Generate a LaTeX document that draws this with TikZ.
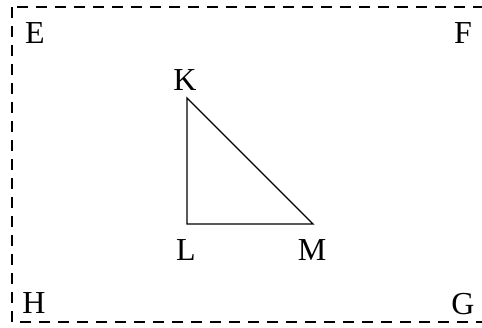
\documentclass[tikz,border=0pt]{standalone}
\usepackage{fontspec}
\setmainfont{Liberation Serif}
\usetikzlibrary{positioning}

\begin{document}
\begin{tikzpicture}[x=0.5pt,y=-0.5pt,font=\fontsize{16}{19}\selectfont,
    frame/.style={dashed, dash pattern=on 5.5pt off 4pt, line width=0.6pt},
    side/.style={line width=0.7pt},
    lbl/.style={inner sep=0pt, text height=10.6pt, text depth=0pt}]

    % --- Canvas ---
    \useasboundingbox (0,0) rectangle (482,327);
    \fill[white] (0,0) rectangle (482,327);

    % --- Dashed frame ---
    \coordinate (TopLeft) at (12,7);
    \coordinate (BotRight) at (484,322);
    \draw[frame] (TopLeft) rectangle (BotRight);

    % --- Corner labels ---
    \node[lbl] (E) at (35,33) {E};
    \node[lbl] (F) at (463,33) {F};
    \node[lbl] (H) at (34,303) {H};
    \node[lbl] (G) at (463,304) {G};

    % --- Triangle ---
    \coordinate (K) at (187,98);
    \coordinate (L) at (187,224);
    \coordinate (M) at (313,224);
    \draw[side] (K) -- (L) -- (M) -- cycle;

    \node[lbl] (Klabel) at (185,80) {K};
    \node[lbl] (Llabel) at (186,250) {L};
    \node[lbl] (Mlabel) at (312,250) {M};

\end{tikzpicture}
\end{document}
